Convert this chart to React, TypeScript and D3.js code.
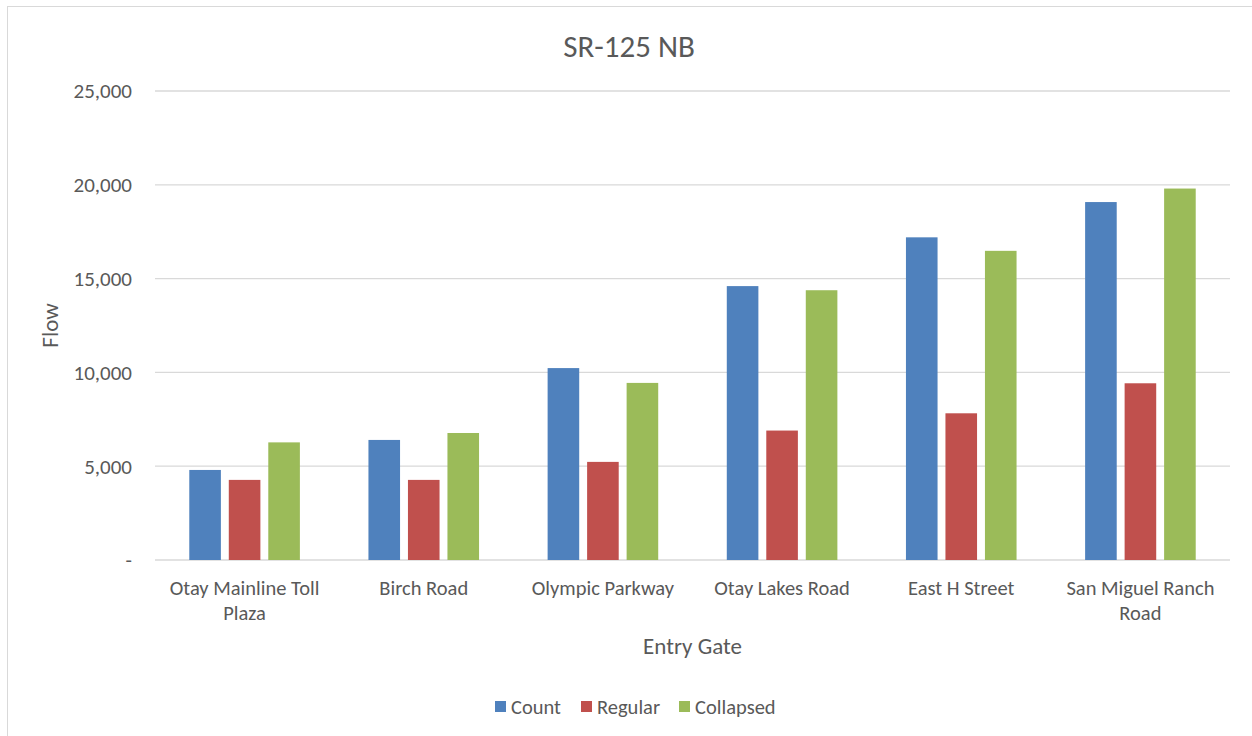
import React from "react";
import * as d3 from "d3";

const WIDTH = 1252;
const HEIGHT = 736;
const PLOT = { left: 155, right: 1230, top: 91, bottom: 560 };
const FONT = "Calibri, Carlito, Lato, sans-serif";
const TEXT_COLOR = "#595959";

const categories = [
  "Otay Mainline Toll Plaza",
  "Birch Road",
  "Olympic Parkway",
  "Otay Lakes Road",
  "East H Street",
  "San Miguel Ranch Road",
];
// how each category label wraps under the axis
const categoryLines = [
  ["Otay Mainline Toll", "Plaza"],
  ["Birch Road"],
  ["Olympic Parkway"],
  ["Otay Lakes Road"],
  ["East H Street"],
  ["San Miguel Ranch", "Road"],
];
const seriesNames = ["Count", "Regular", "Collapsed"];
const seriesColors = ["#4F81BD", "#C0504D", "#9BBB59"];
const countValues = [4800, 6400, 10230, 14600, 17200, 19080];
const regularValues = [4270, 4270, 5230, 6900, 7820, 9420];
const collapsedValues = [6270, 6770, 9440, 14380, 16480, 19800];
const yTicks = [0, 5000, 10000, 15000, 20000, 25000];

const seriesValues = [countValues, regularValues, collapsedValues];

const App = () => {
  const x = d3
    .scaleBand<string>()
    .domain(categories)
    .range([PLOT.left, PLOT.right]);
  const xInner = d3
    .scaleBand<string>()
    .domain(seriesNames)
    .range([-55.3, 55.3])
    .paddingInner(0.2);
  const y = d3
    .scaleLinear()
    .domain([0, 25000])
    .range([PLOT.bottom, PLOT.top]);
  const fmt = d3.format(",");
  const tickLabel = (v: number) => (v === 0 ? "-" : fmt(v));

  const legendX = [495, 581, 679];

  return (
    <svg
      width={WIDTH}
      height={HEIGHT}
      style={{ position: "absolute", left: 0, top: 0, background: "#fff" }}
      fontFamily={FONT}
    >
      <rect
        x={7.5}
        y={6.5}
        width={1300}
        height={800}
        fill="#fff"
        stroke="#d9d9d9"
      />

      <text
        x={629}
        y={57}
        textAnchor="middle"
        fontSize={31}
        fill={TEXT_COLOR}
      >
        SR-125 NB
      </text>

      {/* gridlines and y ticks */}
      {yTicks.map((t) => (
        <g key={t}>
          <line
            x1={PLOT.left}
            x2={PLOT.right}
            y1={y(t)}
            y2={y(t)}
            stroke="#d9d9d9"
            strokeWidth={1.3}
          />
          <text
            x={132}
            y={y(t)}
            dy="0.35em"
            textAnchor="end"
            fontSize={21}
            fill={TEXT_COLOR}
          >
            {tickLabel(t)}
          </text>
        </g>
      ))}

      {/* bars */}
      {seriesNames.map((s, si) => (
        <g key={s} fill={seriesColors[si]}>
          {categories.map((c, ci) => {
            const v = seriesValues[si][ci];
            const x0 = x(c)! + x.bandwidth() / 2 + xInner(s)!;
            return (
              <rect
                key={c}
                x={x0}
                y={y(v)}
                width={xInner.bandwidth()}
                height={y(0) - y(v)}
              />
            );
          })}
        </g>
      ))}

      {/* category labels */}
      {categories.map((c, ci) => (
        <text
          key={c}
          x={x(c)! + x.bandwidth() / 2}
          y={595}
          textAnchor="middle"
          fontSize={20.5}
          fill={TEXT_COLOR}
        >
          {categoryLines[ci].map((line, li) => (
            <tspan key={li} x={x(c)! + x.bandwidth() / 2} dy={li === 0 ? 0 : 25}>
              {line}
            </tspan>
          ))}
        </text>
      ))}

      <text
        x={(PLOT.left + PLOT.right) / 2}
        y={654}
        textAnchor="middle"
        fontSize={23}
        fill={TEXT_COLOR}
      >
        Entry Gate
      </text>

      <text
        transform={`translate(58,${(PLOT.top + PLOT.bottom) / 2}) rotate(-90)`}
        textAnchor="middle"
        fontSize={23}
        fill={TEXT_COLOR}
      >
        Flow
      </text>

      {/* legend */}
      {seriesNames.map((s, si) => (
        <g key={s} transform={`translate(${legendX[si]},701)`}>
          <rect width={11} height={11} fill={seriesColors[si]} />
          <text x={16} y={5.5} dy="0.35em" fontSize={20.5} fill={TEXT_COLOR}>
            {s}
          </text>
        </g>
      ))}
    </svg>
  );
};

export default App;
